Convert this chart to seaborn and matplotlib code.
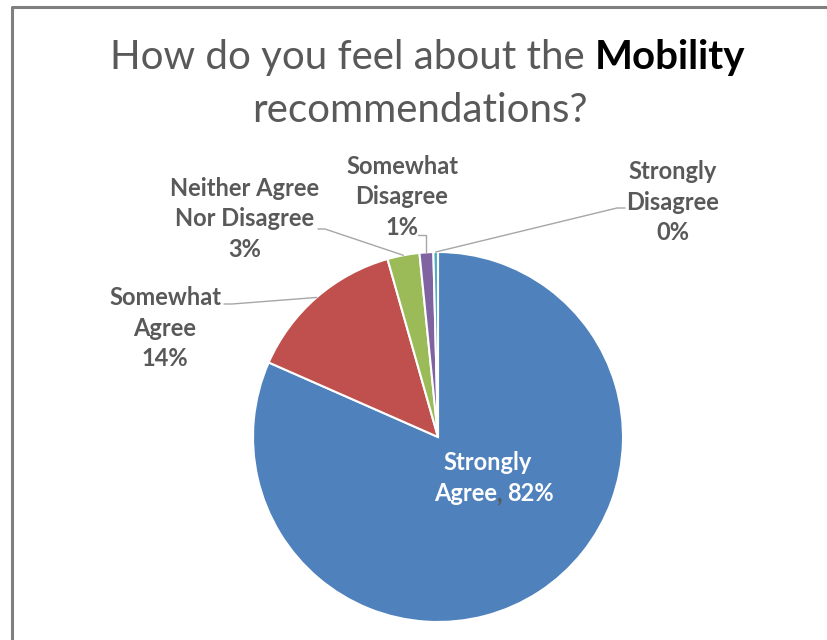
import numpy as np
import matplotlib
matplotlib.use("Agg")
import matplotlib.pyplot as plt
from matplotlib.lines import Line2D
import seaborn as sns

# Survey responses (counts) for the Mobility recommendations
categories = ["Strongly Agree", "Somewhat Agree", "Neither Agree Nor Disagree",
              "Somewhat Disagree", "Strongly Disagree"]
label_lines = [["Strongly", "Agree"], ["Somewhat", "Agree"], ["Neither Agree", "Nor Disagree"],
               ["Somewhat", "Disagree"], ["Strongly", "Disagree"]]
counts = [204, 35, 7, 3, 1]

sns.set_theme(style="white")
plt.rcParams["font.family"] = ["Lato", "DejaVu Sans"]

colors = ["#4F81BD", "#C0504D", "#9BBB59", "#8064A2", "#4BACC6"]
TEXT_GRAY = "#595959"
LEADER_GRAY = "#A6A6A6"

W, H = 827, 640
fig = plt.figure(figsize=(W / 100, H / 100), dpi=100)
fig.patch.set_facecolor("white")
ax = fig.add_axes([0, 0, 1, 1])


def Y(y):
    """Convert a top-down pixel row into data y."""
    return H - y


cx, cy, R = 438, Y(437), 185
wedges, _ = ax.pie(counts, colors=colors, startangle=90, counterclock=False,
                   center=(cx, cy), radius=R,
                   wedgeprops=dict(edgecolor="white", linewidth=1.5))
ax.set_xlim(0, W)
ax.set_ylim(0, H)
ax.set_aspect("equal")
ax.axis("off")

total = sum(counts)
pcts = [f"{round(100 * c / total)}%" for c in counts]


def wedge_point(w):
    mid = np.deg2rad((w.theta1 + w.theta2) / 2)
    return cx + R * np.cos(mid), cy + R * np.sin(mid)


label_fs = 17
# outside labels: block centre and leader path start / knee
outside = {
    1: dict(pos=(165, 328), start=(224, 304), knee=(232, 304)),
    2: dict(pos=(245, 219), start=(318, 229), knee=(325, 229)),
    3: dict(pos=(402, 197), start=(418, 235), knee=None),
    4: dict(pos=(673, 202), start=(625, 208), knee=(617, 208)),
}
for i, spec in outside.items():
    x, y = spec["pos"]
    ax.text(x, Y(y), "\n".join(label_lines[i] + [pcts[i]]), ha="center", va="center",
            fontsize=label_fs, fontweight="bold", color=TEXT_GRAY, linespacing=1.4)
    ex, ey = wedge_point(wedges[i])
    sx, sy = spec["start"]
    if spec["knee"] is None:
        kx, ky = ex, sy
    else:
        kx, ky = spec["knee"]
    ax.plot([sx, kx, ex], [Y(sy), Y(ky), ey], color=LEADER_GRAY, lw=1.0,
            solid_joinstyle="miter")

renderer = fig.canvas.get_renderer()


def draw_runs(x_px, y_px, runs, gaps, **base):
    """Place differently styled text pieces side by side, centred on x_px."""
    texts = [fig.text(0, 0, s, ha="left", va="baseline", **base, **kw) for s, kw in runs]
    widths = [t.get_window_extent(renderer).width for t in texts]
    tot = sum(widths) + sum(gaps)
    x = x_px - tot / 2
    for k, (t, w) in enumerate(zip(texts, widths)):
        t.set_position((x / W, 1 - y_px / H))
        x += w + (gaps[k] if k < len(gaps) else 0)


def space_width(**kw):
    a = fig.text(0, 0, "a a", **kw)
    b = fig.text(0, 0, "aa", **kw)
    d = a.get_window_extent(renderer).width - b.get_window_extent(renderer).width
    a.remove()
    b.remove()
    return d


# Title
title_fs = 29
sp = space_width(fontsize=title_fs)
draw_runs(428, 69, [("How do you feel about the", dict(color=TEXT_GRAY)),
                    ("Mobility", dict(color="black", fontweight="bold"))],
          [sp], fontsize=title_fs)
fig.text(420 / W, 1 - 122 / H, "recommendations?", ha="center", va="baseline",
         fontsize=title_fs, color=TEXT_GRAY)

# Label inside the largest slice
ax.text(488, Y(462), label_lines[0][0], ha="center", va="center",
        fontsize=label_fs, fontweight="bold", color="white")
sp2 = space_width(fontsize=label_fs, fontweight="bold")
draw_runs(494, 501, [(label_lines[0][1], dict(color="white")),
                     (",", dict(color=TEXT_GRAY)),
                     (pcts[0], dict(color="white"))],
          [-0.5, sp2 - 1], fontsize=label_fs, fontweight="bold")

# Outer frame (left and top edges visible)
fig.add_artist(Line2D([12 / W, 12 / W, 1.0], [0.0, 1 - 7 / H, 1 - 7 / H],
                      transform=fig.transFigure, color="#7F7F7F", lw=2.2))

fig.savefig("out.png", dpi=100, facecolor="white")
